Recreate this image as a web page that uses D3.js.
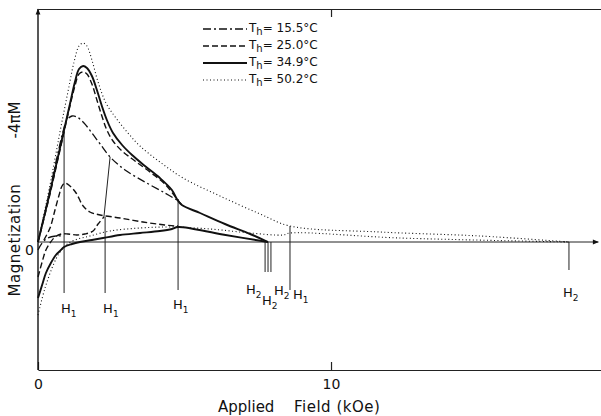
<!DOCTYPE html>
<html>
<head>
<meta charset="utf-8">
<script src="https://cdn.jsdelivr.net/npm/d3@7"></script>
<style>
  body { margin: 0; background: #fff; }
  text { font-family: "DejaVu Sans", sans-serif; fill: #111; }
</style>
</head>
<body>
<svg id="chart" width="601" height="416"></svg>
<script>
// field in kOe, magnetization -4piM in arbitrary units
const fieldExtent = [0, 19.2];
const magExtent = [-12.8, 23.3];
const fieldTicks = [0, 10];

const temps = ["15.5", "25.0", "34.9", "50.2"];

const dashDot155Up = [[0,0],[0.24,3.0],[0.48,6.2],[0.68,8.9],[0.85,11.0],[0.99,12.2],[1.16,12.6],[1.33,12.5],[1.57,11.9],[1.84,10.9],[2.12,9.8],[2.46,8.5],[2.97,7.2],[3.65,6.0],[4.33,4.9],[4.74,4.2]];
const dashDot155Low = [[0,-0.8],[0.14,-0.1],[0.34,0.4],[0.61,0.6],[0.89,0.6]];

const dashed250Up = [[0,0],[0.41,4.8],[0.75,9.2],[1.09,13.6],[1.26,15.6],[1.40,16.8],[1.54,17.0],[1.67,16.8],[1.84,15.8],[2.01,14.2],[2.18,12.6],[2.35,11.2],[2.56,10.1],[2.87,9.1],[3.31,8.1],[3.82,7.0],[4.33,5.8],[4.74,4.3],[4.91,3.7]];
const dashed250Minor = [[0.20,0.2],[0.41,1.4],[0.58,3.2],[0.72,4.7],[0.82,5.6],[0.92,5.9],[1.09,5.6],[1.30,4.9],[1.54,3.6],[1.77,3.0],[2.12,2.7],[2.80,2.4],[3.58,2.0],[4.33,1.7],[4.68,1.6],[4.78,1.6]];
const dashed250Low = [[0,-3.5],[0.14,-2.0],[0.27,-0.8],[0.41,-0.1],[0.58,0.5],[0.79,0.8],[1.02,0.8],[1.33,0.7],[1.60,0.8],[1.88,1.1],[2.05,1.8],[2.25,2.5]];

const solid349Up = [[0,0],[0.41,5.0],[0.75,9.4],[1.09,13.8],[1.26,16.0],[1.40,17.3],[1.54,17.6],[1.67,17.4],[1.84,16.6],[2.01,15.2],[2.18,13.6],[2.35,12.2],[2.56,10.9],[2.87,9.7],[3.21,8.7],[3.65,7.6],[4.16,6.4],[4.57,5.2],[4.74,4.3],[4.91,3.7],[5.53,2.9],[6.38,1.8],[7.24,0.8],[7.85,0]];
const solid349Low = [[0,-5.6],[0.14,-4.3],[0.27,-3.1],[0.44,-2.1],[0.61,-1.3],[0.75,-0.9],[0.89,-0.5],[1.16,-0.2],[1.43,0],[1.84,0.2],[2.22,0.4],[2.80,0.7],[3.48,0.9],[4.16,1.1],[4.57,1.3],[4.78,1.5],[6.3,0.75],[7.85,0]];

const dotted502Up = [[0,0],[0.41,5.7],[0.75,11.0],[1.02,15.0],[1.23,18.0],[1.40,19.6],[1.54,19.9],[1.67,19.6],[1.84,18.2],[2.05,16.0],[2.32,13.9],[2.66,12.4],[3.07,10.9],[3.48,9.6],[4.16,8.0],[4.95,6.4],[6.21,4.6],[7.58,2.8],[8.60,1.6],[11.67,1.0],[15.09,0.6],[18.12,0]];
const dotted502Low = [[0,-7.3],[0.24,-4.6],[0.55,-2.1],[0.75,-1.0],[0.96,-0.3],[1.26,0.2],[1.77,0.6],[2.46,1.1],[3.48,1.4],[4.51,1.5],[5.87,1.3],[7.24,0.9],[8.36,0.7],[8.60,0.9],[12.35,0.4],[18.12,0]];

// H1 / H2 marker lines: field, top and bottom magnetization
const h1Field = [0.89, 2.29, 4.78, 8.60];
const h1Top = [11.0, 2.5, 4.3, 1.6];
const h1Bottom = [-5.1, -5.1, -4.8, -4.8];
const h1Link = [[2.25, 2.5], [2.46, 8.5]];
const h2Field = [7.75, 7.85, 7.95, 18.12];
const h2Bottom = [-3.0, -3.0, -3.0, -2.8];

const styles = {
  dashdot: { dash: "8,3,2,3", width: 1.3 },
  dashed: { dash: "6,3", width: 1.4 },
  solid: { dash: null, width: 1.9 },
  dotted: { dash: "1,2.5", width: 1.1 },
};

const curves = [
  { pts: dotted502Up, s: "dotted" },
  { pts: dotted502Low, s: "dotted" },
  { pts: dashDot155Up, s: "dashdot" },
  { pts: dashDot155Low, s: "dashdot" },
  { pts: dashed250Up, s: "dashed" },
  { pts: dashed250Minor, s: "dashed" },
  { pts: dashed250Low, s: "dashed" },
  { pts: solid349Up, s: "solid" },
  { pts: solid349Low, s: "solid" },
];

const svg = d3.select("#chart");
const x = d3.scaleLinear().domain(fieldExtent).range([38, 600.6]);
const y = d3.scaleLinear().domain(magExtent).range([370, 9]);

const defs = svg.append("defs");
defs.append("marker").attr("id", "arrow")
  .attr("viewBox", "0 0 10 10").attr("refX", 9).attr("refY", 5)
  .attr("markerWidth", 8).attr("markerHeight", 6).attr("orient", "auto")
  .attr("markerUnits", "userSpaceOnUse")
  .append("path").attr("d", "M0,1 L10,5 L0,9 Z").attr("fill", "#111");

// frame: bottom axis, top line, left axis
svg.append("g").attr("transform", `translate(0,${y(magExtent[0])})`)
  .call(d3.axisBottom(x).tickValues(fieldTicks).tickSizeInner(-8).tickSizeOuter(0).tickPadding(9))
  .call(g => g.selectAll("text").attr("font-size", 14).attr("font-family", "DejaVu Sans").attr("fill", "#111"));
svg.append("g").attr("transform", `translate(0,${y(magExtent[1])})`)
  .call(d3.axisTop(x).tickValues([10]).tickSizeInner(-8).tickSizeOuter(0).tickFormat(""));
svg.selectAll(".domain, .tick line").attr("stroke", "#222").attr("stroke-width", 1.2);

svg.append("line")
  .attr("x1", x(0)).attr("x2", x(0)).attr("y1", y(magExtent[0])).attr("y2", y(magExtent[1]))
  .attr("stroke", "#111").attr("stroke-width", 1.4).attr("marker-end", "url(#arrow)");

// zero line with arrow
svg.append("line")
  .attr("x1", x(0)).attr("x2", x(19.12)).attr("y1", y(0)).attr("y2", y(0))
  .attr("stroke", "#222").attr("stroke-width", 1).attr("marker-end", "url(#arrow)");
svg.append("g").attr("transform", `translate(${x(0)},0)`)
  .call(d3.axisLeft(y).tickValues([0]).tickSize(0).tickPadding(4))
  .call(g => g.select(".domain").remove())
  .call(g => g.selectAll("text").attr("font-size", 14).attr("dy", "0.9em").attr("font-family", "DejaVu Sans").attr("fill", "#111"));

// marker lines
const h1 = h1Field.map((f, i) => ({ f, top: h1Top[i], bot: h1Bottom[i] }));
svg.append("g").selectAll("line").data(h1).join("line")
  .attr("x1", d => x(d.f)).attr("x2", d => x(d.f))
  .attr("y1", d => y(d.top)).attr("y2", d => y(d.bot))
  .attr("stroke", "#222").attr("stroke-width", 1);
svg.append("path").attr("d", d3.line().x(d => x(d[0])).y(d => y(d[1]))(h1Link))
  .attr("stroke", "#222").attr("stroke-width", 1).attr("fill", "none");
const h2 = h2Field.map((f, i) => ({ f, bot: h2Bottom[i] }));
svg.append("g").selectAll("line").data(h2).join("line")
  .attr("x1", d => x(d.f)).attr("x2", d => x(d.f))
  .attr("y1", y(0)).attr("y2", d => y(d.bot))
  .attr("stroke", "#222").attr("stroke-width", 1);

// curves
const line = d3.line().x(d => x(d[0])).y(d => y(d[1])).curve(d3.curveCatmullRom.alpha(0.5));
svg.append("g").selectAll("path").data(curves).join("path")
  .attr("d", d => line(d.pts))
  .attr("fill", "none").attr("stroke", "#111")
  .attr("stroke-width", d => styles[d.s].width)
  .attr("stroke-dasharray", d => styles[d.s].dash);

// H labels (offsets in px)
const h1Offset = [[-3, 20], [-2, 20], [-5, 19], [3, 9]];
const h2Offset = [[-19, 22], [-6, 33], [3, 23], [-6, 27]];
function hLabel(px, py, sub) {
  const t = svg.append("text").attr("x", px).attr("y", py).attr("font-size", 13);
  t.append("tspan").text("H");
  t.append("tspan").attr("font-size", 9).attr("dy", 4).text(sub);
}
h1.forEach((d, i) => hLabel(x(d.f) + h1Offset[i][0], y(d.bot) + h1Offset[i][1], "1"));
h2.forEach((d, i) => hLabel(x(d.f) + h2Offset[i][0], y(d.bot) + h2Offset[i][1], "2"));

// legend
const legendStyles = ["dashdot", "dashed", "solid", "dotted"];
const legend = svg.append("g").attr("transform", "translate(203,29)");
temps.forEach((t, i) => {
  const g = legend.append("g").attr("transform", `translate(0,${i * 17})`);
  g.append("line").attr("x1", 0).attr("x2", 44).attr("y1", 0).attr("y2", 0)
    .attr("stroke", "#111").attr("stroke-width", styles[legendStyles[i]].width)
    .attr("stroke-dasharray", styles[legendStyles[i]].dash);
  const tx = g.append("text").attr("x", 46).attr("y", 3).attr("font-size", 12);
  tx.append("tspan").text("T");
  tx.append("tspan").attr("font-size", 10).attr("dy", 3).text("h");
  tx.append("tspan").attr("dy", -3).text(`= ${t}°C`);
});

// axis titles
svg.append("text").attr("x", 218).attr("y", 412).attr("font-size", 15).text("Applied");
svg.append("text").attr("x", 294).attr("y", 412).attr("font-size", 15)
  .attr("letter-spacing", 0.5).text("Field (kOe)");
svg.append("text").attr("transform", "translate(20,240) rotate(-90)")
  .attr("text-anchor", "middle").attr("font-size", 15).attr("letter-spacing", 0.5).text("Magnetization");
svg.append("text").attr("transform", "translate(20,120) rotate(-90)")
  .attr("text-anchor", "middle").attr("font-size", 15).text("-4πM");
</script>
</body>
</html>
